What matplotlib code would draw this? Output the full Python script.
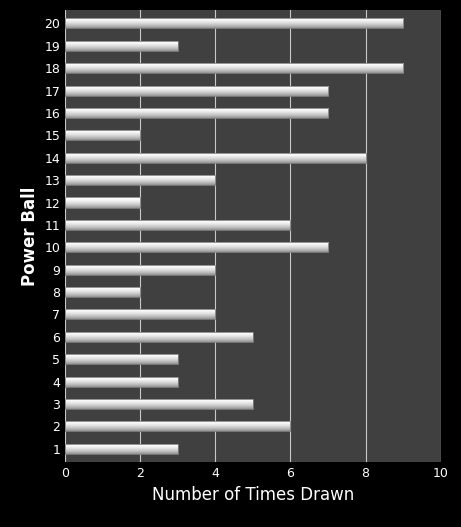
import numpy as np
import matplotlib
matplotlib.use("Agg")
import matplotlib.pyplot as plt

balls = list(range(1, 21))
times_drawn = [3, 6, 5, 3, 3, 5, 4, 2, 4, 7, 6, 2, 4, 8, 2, 7, 7, 9, 3, 9]

fig = plt.figure(figsize=(4.61, 5.27), dpi=100, facecolor="black")
ax = fig.add_axes([0.141, 0.123, 0.815, 0.858], facecolor="#404040")

bars = ax.barh(balls, times_drawn, height=0.45, color="none", edgecolor="#808080", linewidth=0.6, zorder=3)

# vertical gradient inside each bar
grad = np.linspace(0, 1, 64).reshape(-1, 1)
for b in bars:
    x0, y0 = b.get_x(), b.get_y()
    w, h = b.get_width(), b.get_height()
    im = ax.imshow(np.hstack([grad, grad]), cmap="Greys_r", vmin=-0.8, vmax=0.85,
                   extent=[x0, x0 + w, y0, y0 + h], origin="lower", aspect="auto", zorder=2)
    im.set_clip_path(b)

ax.set_xlim(0, 10)
ax.set_ylim(0.4, 20.6)
ax.set_xticks([0, 2, 4, 6, 8, 10])
ax.set_yticks(balls)
ax.xaxis.grid(True, color="#c8c8c8", linewidth=0.8, zorder=1)
ax.set_axisbelow(True)
ax.tick_params(colors="white", labelsize=9, length=0)
for s in ax.spines.values():
    s.set_visible(False)
ax.set_xlabel("Number of Times Drawn", color="white", fontsize=12)
ax.set_ylabel("Power Ball", color="white", fontsize=12, fontweight="bold")

fig.savefig("out.png", facecolor="black")
